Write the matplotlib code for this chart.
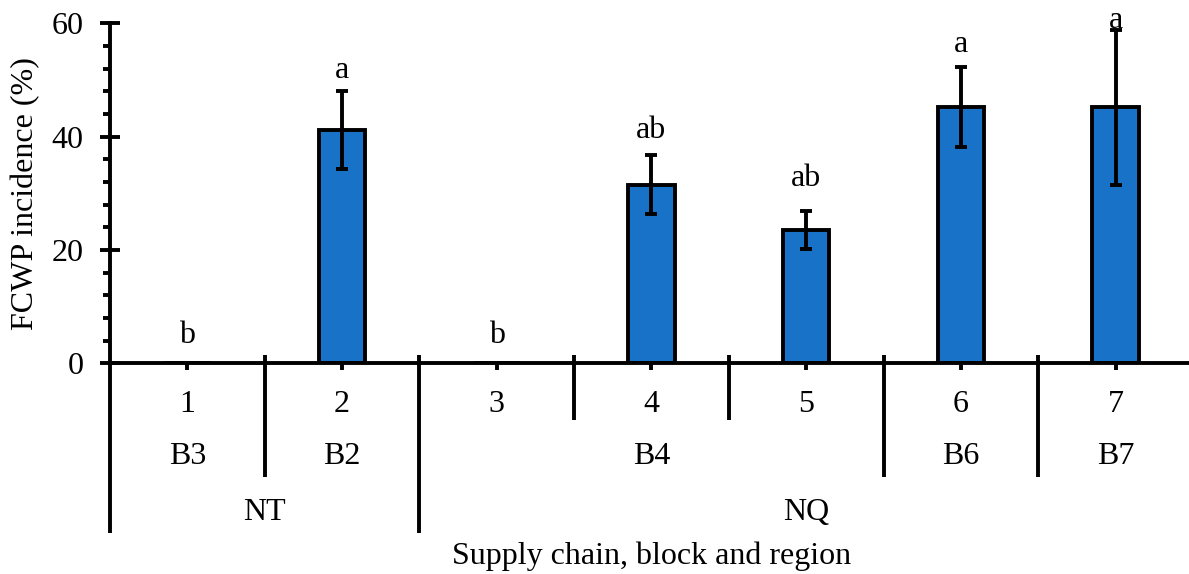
import numpy as np
import matplotlib.pyplot as plt

plt.rcParams['font.family'] = ['Liberation Serif', 'DejaVu Serif']
plt.rcParams['font.size'] = 23

# supply chain number, block and region for each bar
chains = ['1', '2', '3', '4', '5', '6', '7']
blocks = ['B3', 'B2', 'B4', 'B6', 'B7']
block_spans = [(0, 0), (1, 1), (2, 4), (5, 5), (6, 6)]
regions = ['NT', 'NQ']
region_spans = [(0, 1), (2, 6)]

incidence = [0, 41.2, 0, 31.5, 23.5, 45.2, 45.2]
std_err = [0, 6.9, 0, 5.2, 3.4, 7.1, 13.7]
letters = ['b', 'a', 'b', 'ab', 'ab', 'a', 'a']
letter_y = [3.6, 50.3, 3.6, 39.7, 31.3, 55.0, 59.2]

BAR_COLOR = '#1873c8'
LW = 2.8

fig = plt.figure(figsize=(11.89, 5.74), dpi=100)
ax = fig.add_axes([110 / 1189, 1 - 363.3 / 574, 7 * 154.7 / 1189, 340 / 574])

x = np.arange(len(chains))
ax.bar(x, incidence, width=0.3, color=BAR_COLOR, edgecolor='black', linewidth=LW, zorder=2)

has_err = [i for i, v in enumerate(incidence) if v > 0]
ax.errorbar([x[i] for i in has_err], [incidence[i] for i in has_err],
            yerr=[std_err[i] for i in has_err], fmt='none', ecolor='black',
            elinewidth=LW, capsize=4.5, capthick=LW, zorder=3)

for i, (lab, ly) in enumerate(zip(letters, letter_y)):
    ax.text(x[i], ly, lab, ha='center', va='baseline', clip_on=False)

ax.set_xlim(-0.5, len(chains) - 0.5)
ax.set_ylim(0, 60)
ax.set_yticks([0, 20, 40, 60])
ax.set_yticks(np.arange(0, 61, 4), minor=True)
ax.tick_params(axis='y', which='major', direction='inout', length=14.4, width=LW, pad=12)
ax.tick_params(axis='y', which='minor', direction='out', length=5, width=LW)

ax.set_xticks(x)
ax.set_xticklabels(chains)
ax.tick_params(axis='x', which='major', direction='out', length=5.3, width=LW, pad=14)

for side in ['top', 'right']:
    ax.spines[side].set_visible(False)
for side in ['left', 'bottom']:
    ax.spines[side].set_linewidth(LW)

ax.set_ylabel('FCWP incidence (%)', labelpad=8)

# multi-level category axis below the plot
trans = ax.get_xaxis_transform()
lvl_ends = {1: -0.167, 2: -0.335, 3: -0.499}
block_edges = {s - 0.5 for s, e in block_spans} | {e + 0.5 for s, e in block_spans}
region_edges = {s - 0.5 for s, e in region_spans} | {e + 0.5 for s, e in region_spans}
for b in np.arange(-0.5, len(chains) + 0.5, 1.0):
    if b in region_edges:
        end = lvl_ends[3]
    elif b in block_edges:
        end = lvl_ends[2]
    else:
        end = lvl_ends[1]
    top = 0 if b == -0.5 else 0.0245
    ax.plot([b, b], [top, end], color='black', lw=LW, transform=trans,
            clip_on=False, solid_capstyle='butt')

for lab, (s, e) in zip(blocks, block_spans):
    ax.text((s + e) / 2, -0.275, lab, ha='center', va='center', transform=trans)
for lab, (s, e) in zip(regions, region_spans):
    ax.text((s + e) / 2, -0.44, lab, ha='center', va='center', transform=trans)

ax.text(0.5, -0.567, 'Supply chain, block and region', ha='center', va='center',
        transform=ax.transAxes)

fig.savefig('out.png', dpi=100)
